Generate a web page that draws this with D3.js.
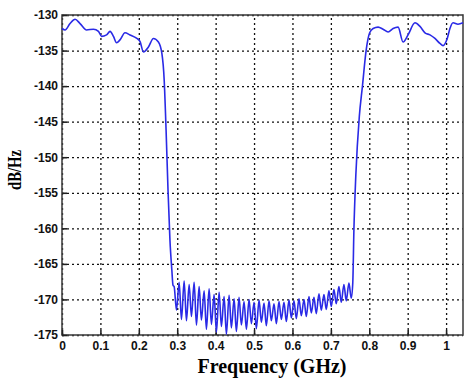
<!DOCTYPE html>
<html>
<head>
<meta charset="utf-8">
<script src="https://cdn.jsdelivr.net/npm/d3@7"></script>
<style>
  body { margin: 0; background: #fff; }
  svg { display: block; }
</style>
</head>
<body>
<svg id="chart"></svg>
<script>
// values
const xTicks = [0, 0.1, 0.2, 0.3, 0.4, 0.5, 0.6, 0.7, 0.8, 0.9, 1];
const xTickLabels = ["0", "0.1", "0.2", "0.3", "0.4", "0.5", "0.6", "0.7", "0.8", "0.9", "1"];
const yTicks = [-130, -135, -140, -145, -150, -155, -160, -165, -170, -175];

// passband edge, left side
const psdLeft = [
  [0.000, -131.9], [0.008, -132.1], [0.021, -131.2], [0.034, -130.6], [0.047, -131.2],
  [0.064, -132.1], [0.082, -132.0], [0.095, -132.3], [0.103, -133.0], [0.116, -132.8],
  [0.125, -132.3], [0.134, -133.0], [0.142, -133.9], [0.151, -133.5], [0.164, -132.5],
  [0.177, -132.8], [0.195, -133.3], [0.203, -133.7], [0.212, -135.2], [0.225, -134.5],
  [0.238, -133.3], [0.251, -133.8], [0.260, -135.4], [0.266, -139.1], [0.271, -146.2],
  [0.276, -154.6], [0.281, -161.6], [0.286, -165.9], [0.289, -168.0]
];

// stopband ripple
const psdStop = [
  [0.292, -168.2], [0.298, -171.5], [0.305, -167.6], [0.311, -172.8], [0.318, -167.4],
  [0.324, -173.0], [0.331, -167.9], [0.337, -172.4], [0.344, -167.6], [0.350, -173.6],
  [0.357, -168.2], [0.363, -172.9], [0.370, -168.8], [0.376, -174.2], [0.383, -168.5],
  [0.389, -173.5], [0.396, -169.3], [0.402, -174.6], [0.409, -169.0], [0.415, -173.8],
  [0.422, -169.6], [0.428, -174.9], [0.435, -169.4], [0.441, -174.0], [0.448, -169.9],
  [0.454, -174.5], [0.461, -169.7], [0.467, -173.6], [0.474, -170.3], [0.480, -174.2],
  [0.487, -170.0], [0.493, -173.4], [0.500, -170.4], [0.506, -174.1], [0.513, -170.1],
  [0.519, -173.2], [0.526, -170.5], [0.532, -173.7], [0.539, -170.2], [0.545, -173.0],
  [0.552, -170.6], [0.558, -173.4], [0.565, -170.3], [0.571, -172.8], [0.578, -170.4],
  [0.584, -173.1], [0.591, -170.1], [0.597, -172.6], [0.604, -170.2], [0.610, -172.7],
  [0.617, -169.9], [0.623, -172.3], [0.630, -170.0], [0.636, -172.4], [0.643, -169.6],
  [0.649, -171.9], [0.656, -169.7], [0.662, -172.0], [0.669, -169.2], [0.675, -171.5],
  [0.682, -169.3], [0.688, -171.4], [0.695, -168.8], [0.701, -171.0], [0.708, -168.6],
  [0.714, -170.6], [0.721, -168.2], [0.727, -170.4], [0.734, -167.9], [0.740, -170.2],
  [0.747, -167.7], [0.753, -169.8], [0.757, -167.7]
];

// passband edge, right side
const psdRight = [
  [0.760, -160.2], [0.765, -152.5], [0.774, -144.3], [0.782, -140.1], [0.792, -134.9],
  [0.801, -132.5], [0.810, -131.9], [0.823, -131.7], [0.836, -132.0], [0.849, -132.4],
  [0.862, -131.9], [0.875, -131.7], [0.888, -133.8], [0.901, -132.8], [0.919, -131.1],
  [0.932, -131.6], [0.945, -132.5], [0.958, -132.8], [0.971, -133.3], [0.984, -134.0],
  [0.992, -134.3], [1.003, -133.3], [1.010, -131.9], [1.018, -131.1], [1.031, -131.3],
  [1.044, -131.1]
];

const psd = psdLeft.concat(psdStop, psdRight);

const W = 465, H = 378;
const m = { left: 62, right: 2, top: 15, bottom: 43 };
const iw = W - m.left - m.right, ih = H - m.top - m.bottom;

let svg = d3.select("#chart").attr("width", W).attr("height", H);
let g = svg.append("g").attr("transform", `translate(${m.left},${m.top})`);

let x = d3.scaleLinear().domain([0, 1.044]).range([0, iw]);
let y = d3.scaleLinear().domain([-175, -130]).range([ih, 0]);

// dotted grid
g.append("g")
  .attr("class", "grid")
  .call(d3.axisLeft(y).tickValues(yTicks).tickSize(-iw).tickFormat(""))
  .call(s => s.select(".domain").remove());
g.append("g")
  .attr("class", "grid")
  .attr("transform", `translate(0,${ih})`)
  .call(d3.axisBottom(x).tickValues(xTicks).tickSize(-ih).tickFormat(""))
  .call(s => s.select(".domain").remove());
g.selectAll(".grid line")
  .attr("stroke", "#111")
  .attr("stroke-width", 1.3)
  .attr("stroke-dasharray", "2,3");

// frame
g.append("rect")
  .attr("width", iw).attr("height", ih)
  .attr("fill", "none")
  .attr("stroke", "#444")
  .attr("stroke-width", 1.6);

// axes with inward ticks, plain hyphen for minus
let yAxis = g.append("g")
  .call(d3.axisLeft(y).tickValues(yTicks).tickSize(-5).tickPadding(4)
    .tickFormat(d => String(d)));
let xAxis = g.append("g")
  .attr("transform", `translate(0,${ih})`)
  .call(d3.axisBottom(x).tickValues(xTicks).tickSize(-5).tickPadding(6)
    .tickFormat((d, i) => xTickLabels[i]));
[xAxis, yAxis].forEach(a => {
  a.select(".domain").remove();
  a.selectAll("line").attr("stroke", "#222").attr("stroke-width", 1.6);
  a.selectAll("text")
    .attr("fill", "#111")
    .style("font-family", "'Liberation Sans', Arial, sans-serif")
    .style("font-weight", "bold")
    .style("font-size", "12px");
});

// curve, smoothed like the original plot
let line = d3.line()
  .x(d => x(d[0]))
  .y(d => y(d[1]))
  .curve(d3.curveMonotoneX);
g.append("path")
  .datum(psd)
  .attr("d", line)
  .attr("fill", "none")
  .attr("stroke", "#2a2ae6")
  .attr("stroke-width", 1.6)
  .attr("stroke-linejoin", "round");

// titles
svg.append("text")
  .attr("x", 272).attr("y", 373)
  .attr("text-anchor", "middle")
  .style("font-family", "'Liberation Serif', 'Times New Roman', serif")
  .style("font-weight", "bold")
  .style("font-size", "20px")
  .text("Frequency (GHz)");

svg.append("text")
  .attr("transform", "translate(21,170) rotate(-90)")
  .attr("text-anchor", "middle")
  .attr("textLength", 40)
  .attr("lengthAdjust", "spacingAndGlyphs")
  .style("font-family", "'Liberation Serif', 'Times New Roman', serif")
  .style("font-weight", "bold")
  .style("font-size", "19px")
  .text("dB/Hz");
</script>
</body>
</html>
